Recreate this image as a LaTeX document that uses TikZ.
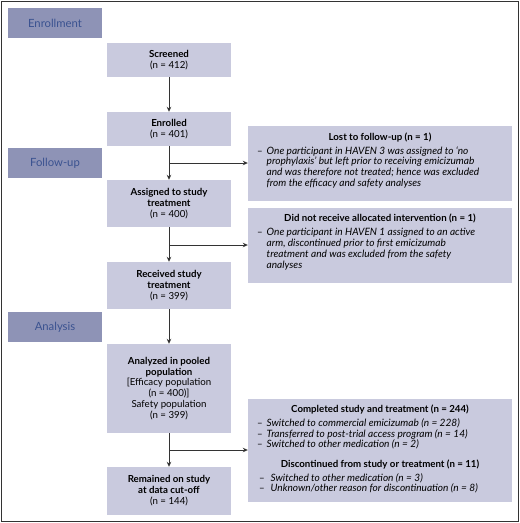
\documentclass[tikz,border=0pt]{standalone}
\usepackage{fontspec}
\setmainfont{Lato}
\usetikzlibrary{arrows.meta}
\definecolor{secfill}{HTML}{8E93B6}
\definecolor{sectext}{HTML}{3A5290}
\definecolor{boxfill}{HTML}{C9CADE}
\definecolor{linec}{HTML}{333333}
\begin{document}
\begin{tikzpicture}[x=1pt,y=-1pt,
  sec/.style={fill=secfill, minimum width=94pt, minimum height=30pt, inner sep=0pt, text=sectext, font=\fontsize{11.3}{13}\selectfont},
  mainbox/.style={fill=boxfill, minimum width=124pt, inner sep=0pt, align=center, font=\fontsize{9.7}{10.9}\selectfont},
  sidebox/.style={fill=boxfill, minimum width=264pt, minimum height=75pt, inner sep=0pt},
  ttl/.style={anchor=base, inner sep=0pt, font=\fontsize{9.7}{10}\selectfont\bfseries},
  itm/.style={anchor=base west, inner sep=0pt, font=\fontsize{10.1}{10}\selectfont\itshape},
  dsh/.style={anchor=base west, inner sep=0pt, font=\fontsize{9.7}{10}\selectfont},
  arr/.style={draw=linec, line width=0.9pt, -{Stealth[length=5pt,width=4.5pt]}},
  frm/.style={draw=linec, line width=0.8pt}]
\useasboundingbox (0,0) rectangle (520,523);
\draw[frm] (1,1) rectangle (518,521);
% section labels
\node[sec] (enrollment) at (55,23) {Enrollment};
\node[sec] (followup) at (55,163) {Follow-up};
\node[sec] (analysis) at (55,327) {Analysis};
% main column
\node[mainbox, minimum height=34pt] (scr) at (169,60) {\textbf{Screened}\\(n = 412)};
\node[mainbox, minimum height=34pt] (enr) at (169,129) {\textbf{Enrolled}\\(n = 401)};
\node[mainbox, minimum height=47pt] (asg) at (169,203.5) {\textbf{Assigned to study}\\\textbf{treatment}\\(n = 400)};
\node[mainbox, minimum height=47pt] (rec) at (169,285.5) {\textbf{Received study}\\\textbf{treatment}\\(n = 399)};
\node[mainbox, minimum height=89pt] (ana) at (169,388.5) {\textbf{Analyzed in pooled}\\\textbf{population}\\{[}Efficacy population\\(n = 400)]\\Safety population\\(n = 399)};
\node[mainbox, minimum height=48pt] (rem) at (169,491) {\textbf{Remained on study}\\\textbf{at data cut-off}\\(n = 144)};
% side boxes
\node[sidebox] (lost) at (380,163) {};
\node[sidebox] (dnr) at (380,245) {};
\node[sidebox, minimum height=103pt] (cmp) at (380,450) {};
% side texts
\node[ttl] (lostt) at (380,140) {Lost to follow-up (n = 1)};
\node[dsh] (lostd) at (257,154) {–};
\node[itm] (lost1) at (266.5,154) {One participant in HAVEN 3 was assigned to `no};
\node[itm] (lost2) at (266.5,164.8) {prophylaxis' but left prior to receiving emicizumab};
\node[itm] (lost3) at (266.5,175.6) {and was therefore not treated; hence was excluded};
\node[itm] (lost4) at (266.5,186.4) {from the efficacy and safety analyses};
\node[ttl] (dnrt) at (380,221) {Did not receive allocated intervention (n = 1)};
\node[dsh] (dnrd) at (257,235.7) {–};
\node[itm] (dnr1) at (266.5,235.7) {One participant in HAVEN 1 assigned to an active};
\node[itm] (dnr2) at (266.5,246.5) {arm, discontinued prior to first emicizumab};
\node[itm] (dnr3) at (266.5,257.3) {treatment and was excluded from the safety};
\node[itm] (dnr4) at (266.5,268) {analyses};
\node[ttl] (cmpt) at (380,412.3) {Completed study and treatment (n = 244)};
\node[dsh] (cmpd1) at (257,426.3) {–};
\node[itm] (cmp1) at (266.5,426.3) {Switched to commercial emicizumab (n = 228)};
\node[dsh] (cmpd2) at (257,437) {–};
\node[itm] (cmp2) at (266.5,437) {Transferred to post-trial access program (n = 14)};
\node[dsh] (cmpd3) at (257,447.7) {–};
\node[itm] (cmp3) at (266.5,447.7) {Switched to other medication (n = 2)};
\node[ttl] (dist) at (380,467.7) {Discontinued from study or treatment (n = 11)};
\node[dsh] (disd1) at (259,481) {–};
\node[itm] (dis1) at (270.5,481) {Switched to other medication (n = 3)};
\node[dsh] (disd2) at (259,491.7) {–};
\node[itm] (dis2) at (270.5,491.7) {Unknown/other reason for discontinuation (n = 8)};
% connectors
\draw[arr] (scr) -- (enr);
\draw[arr] (enr) -- (asg);
\draw[arr] (asg) -- (rec);
\draw[arr] (rec) -- (ana);
\draw[arr] (ana) -- (rem);
\coordinate (b1) at (169,163);
\coordinate (b2) at (169,245);
\coordinate (b3) at (169,450);
\draw[arr] (b1) -- (lost.west);
\draw[arr] (b2) -- (dnr.west);
\draw[arr] (b3) -- (cmp.west);
\end{tikzpicture}
\end{document}
